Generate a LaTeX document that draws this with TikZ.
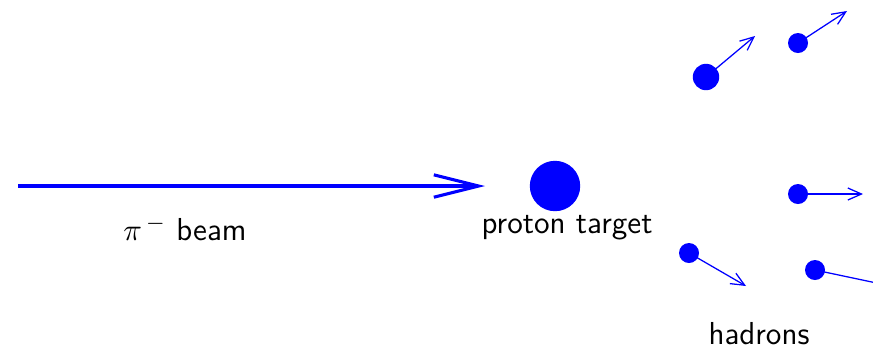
\documentclass[tikz,border=0pt]{standalone}
\usepackage{amsmath,amssymb}
\usepackage{xcolor}
\usepackage{tikz}
\usetikzlibrary{arrows.meta,positioning,calc}
\colorlet{partfill}{blue}
\colorlet{partedge}{blue}
\tikzset{
    targetdot/.style={
        circle, fill=partfill, draw=none, inner sep=0pt,
        minimum size=6.3mm
    },
    hadrondot/.style={
        circle, fill=partfill, draw=none, inner sep=0pt,
        minimum size=2.5mm
    },
    bigdot/.style={hadrondot, minimum size=3.3mm},
    beamflow/.style={-{Straight Barb[length=5.6mm, width=2.8mm, line width=1.1pt]},
        line width=1.1pt, draw=partedge},
    hadronflow/.style={-{Straight Barb[length=1.7mm, width=1.5mm]},
        line width=0.45pt, draw=partedge},
    lbl/.style={font=\sffamily\fontsize{11.3}{13}\selectfont, text=black, inner sep=1pt}
}

\begin{document}
\begin{tikzpicture}[x=0.0125cm, y=-0.0125cm]
        \clip (0,0) rectangle (873,349);
        % beam and target
        \coordinate (b0) at (18,186);
        \coordinate (b1) at (485,186);
        \node[targetdot] (target) at (555,186) {};
        \draw[beamflow] (b0) -- (b1);
        \node[lbl] (beam) at (185,228) {$\pi^{\,-}$\ beam};
        \node[lbl] (tlbl) at (567,228) {proton target};
        % outgoing hadrons
        \node[bigdot] (h1) at (706,77) {};
        \node[hadrondot] (h2) at (798,43) {};
        \node[hadrondot] (h3) at (798,194) {};
        \node[hadrondot] (h4) at (689,253) {};
        \node[hadrondot] (h5) at (815,270) {};
        \coordinate (e1) at (755,36);
        \coordinate (e2) at (847,11);
        \coordinate (e3) at (863,194);
        \coordinate (e4) at (746,286);
        \coordinate (e5) at (905,289);
        \foreach \i in {1,...,5}
            \draw[hadronflow] (h\i.center) -- (e\i);
        \node[lbl] (hlbl) at (759,334) {hadrons};
    \end{tikzpicture}
\end{document}
